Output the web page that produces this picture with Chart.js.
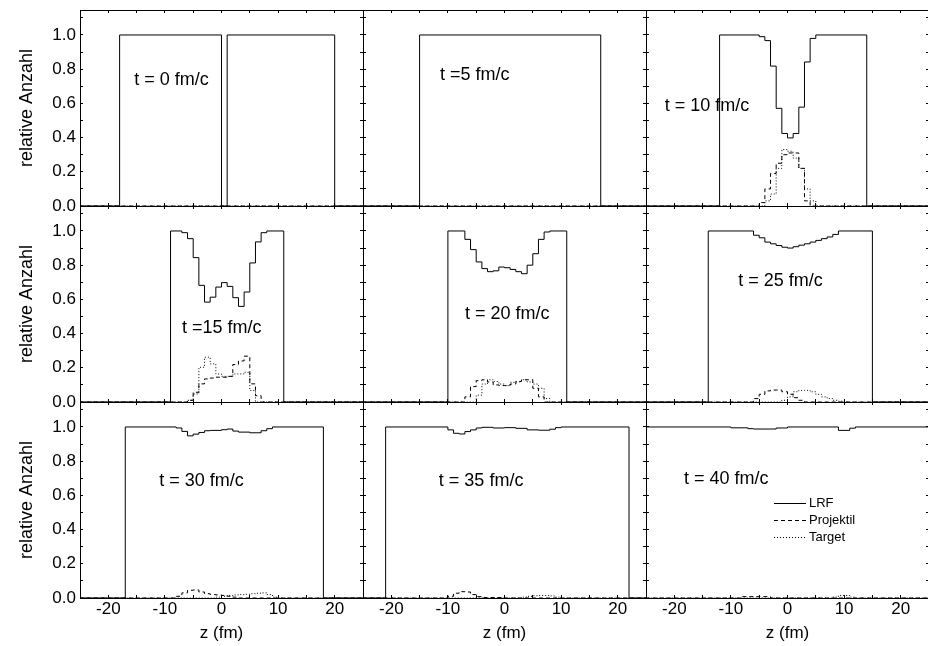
<!DOCTYPE html>
<html>
<head>
<meta charset="utf-8">
<script src="https://cdn.jsdelivr.net/npm/chart.js@4"></script>
<style>
html,body{margin:0;padding:0;background:#fff;overflow:hidden}
#wrap{position:relative;width:928px;height:646px;overflow:hidden;background:#fff}
#wrap canvas{position:absolute}
</style>
</head>
<body>
<div id="wrap"></div>
<script>
// ---------------- data (bin edges z in fm, relative counts) ----------------
const panelLabels = ['t = 0 fm/c','t =5 fm/c','t = 10 fm/c','t =15 fm/c','t = 20 fm/c','t = 25 fm/c','t = 30 fm/c','t = 35 fm/c','t = 40 fm/c'];
const seriesNames = ['LRF','Projektil','Target'];
const xTickLabels = [-20,-10,0,10,20];
const yTickLabels = [0,0.2,0.4,0.6,0.8,1.0];
const xTitle = 'z (fm)';
const yTitle = 'relative Anzahl';

// t = 0
const lrf0Z = [-30,-18,0,1,20,30];
const lrf0V = [0,1,0,1,0,0];
const pro0Z = [-30,30];
const pro0V = [0,0];
const tar0Z = [-30,30];
const tar0V = [0,0];
// t = 5
const lrf5Z = [-30,-15,17,30];
const lrf5V = [0,1,0,0];
const pro5Z = [-30,30];
const pro5V = [0,0];
const tar5Z = [-30,30];
const tar5V = [0,0];
// t = 10
const lrf10Z = [-30,-12,-5,-4,-3,-2,-1,0,1,2,3,4,5,14,30];
const lrf10V = [0,1,0.99,0.967,0.818,0.571,0.424,0.398,0.424,0.578,0.842,0.98,1,0,0];
const pro10Z = [-30,-5,-4,-3,-2,-1,0,1,2,3,4,30];
const pro10V = [0,0.02,0.1,0.19,0.25,0.3,0.31,0.31,0.22,0.03,0,0];
const tar10Z = [-30,-4,-3,-2,-1,0,1,2,3,4,5,30];
const tar10V = [0,0.03,0.07,0.22,0.33,0.32,0.28,0.22,0.1,0.03,0,0];
// t = 15
const lrf15Z = [-30,-9,-7,-6,-5,-4,-3,-2,-1,0,1,2,3,4,5,6,7,8,11,30];
const lrf15V = [0,1,0.99,0.955,0.844,0.682,0.584,0.613,0.672,0.698,0.676,0.61,0.559,0.643,0.813,0.936,0.99,1,0,0];
const pro15Z = [-30,-6,-5,-4,-3,-2,-1,0,1,2,3,4,5,6,7,30];
const pro15V = [0,0.01,0.057,0.106,0.135,0.14,0.145,0.145,0.15,0.219,0.24,0.268,0.106,0.037,0,0];
const tar15Z = [-30,-6,-5,-4,-3,-2,-1,0,1,2,3,4,5,6,30];
const tar15V = [0,0.01,0.047,0.203,0.262,0.223,0.164,0.15,0.15,0.164,0.164,0.174,0.067,0,0];
// t = 20
const lrf20Z = [-30,-10,-7,-6,-5,-4,-3,-2,-1,0,1,2,3,4,5,6,7,8,11,30];
const lrf20V = [0,1,0.951,0.891,0.819,0.78,0.762,0.767,0.789,0.785,0.775,0.762,0.75,0.8,0.867,0.951,0.994,1,0,0];
const pro20Z = [-30,-7,-6,-5,-4,-3,-2,-1,0,1,2,3,4,5,6,7,30];
const pro20V = [0,0.03,0.09,0.125,0.13,0.117,0.1,0.096,0.096,0.105,0.12,0.13,0.13,0.08,0.03,0,0];
const tar20Z = [-30,-5,-4,-3,-2,-1,0,1,2,3,4,5,6,7,8,30];
const tar20V = [0,0.04,0.105,0.13,0.12,0.105,0.096,0.115,0.118,0.13,0.117,0.105,0.08,0.02,0,0];
// t = 25
const lrf25Z = [-30,-14,-6,-5,-4,-3,-2,-1,0,1,2,3,4,5,6,7,8,9,15,30];
const lrf25V = [0,1,0.975,0.96,0.935,0.925,0.915,0.905,0.9,0.908,0.917,0.925,0.935,0.945,0.955,0.965,0.98,1,0,0];
const pro25Z = [-30,-6,-5,-4,-3,-2,-1,0,1,2,3,30];
const pro25V = [0,0.02,0.045,0.065,0.07,0.07,0.06,0.045,0.025,0.01,0,0];
const tar25Z = [-30,-1,0,1,2,3,4,5,6,7,8,9,10,30];
const tar25V = [0,0.01,0.03,0.06,0.068,0.068,0.06,0.045,0.03,0.02,0.01,0.005,0,0];
// t = 30
const lrf30Z = [-30,-17,-8,-7,-6,-5,-4,-3,-2,0,1,2,3,5,7,8,9,18,30];
const lrf30V = [0,1,0.994,0.974,0.948,0.958,0.968,0.978,0.98,0.984,0.988,0.976,0.97,0.966,0.978,0.99,1,0,0];
const pro30Z = [-30,-8,-7,-6,-5,-4,-3,-2,-1,0,1,2,3,30];
const pro30V = [0,0.01,0.03,0.045,0.047,0.035,0.025,0.02,0.018,0.015,0.01,0.005,0,0];
const tar30Z = [-30,-1,0,1,2,3,4,5,6,7,8,9,10,30];
const tar30V = [0,0.005,0.01,0.015,0.018,0.02,0.022,0.025,0.028,0.03,0.02,0.005,0,0];
// t = 35
const lrf35Z = [-30,-21,-10,-9,-8,-7,-6,-5,-4,-2,0,2,4,6,8,9,10,22,30];
const lrf35V = [0,1,0.983,0.963,0.959,0.973,0.983,0.994,0.998,0.994,0.996,0.992,0.983,0.981,0.987,0.996,1,0,0];
const pro35Z = [-30,-10,-9,-8,-7,-6,-5,-4,0,30];
const pro35V = [0,0.01,0.028,0.037,0.035,0.02,0.008,0.003,0,0];
const tar35Z = [-30,3,4,5,6,7,8,9,10,30];
const tar35V = [0,0.005,0.01,0.013,0.015,0.015,0.012,0.005,0,0];
// t = 40
const lrf40Z = [-30,-10,-7,-6,-2,0,9,11,12,30];
const lrf40V = [1,0.995,0.99,0.988,0.994,1,0.98,0.993,1,1];
const pro40Z = [-30,-8,-3,30];
const pro40V = [0,0.008,0,0];
const tar40Z = [-30,8,9,11,12,30];
const tar40V = [0,0.005,0.015,0.005,0,0];

const panelSeries = [
  [[lrf0Z,lrf0V],[pro0Z,pro0V],[tar0Z,tar0V]],
  [[lrf5Z,lrf5V],[pro5Z,pro5V],[tar5Z,tar5V]],
  [[lrf10Z,lrf10V],[pro10Z,pro10V],[tar10Z,tar10V]],
  [[lrf15Z,lrf15V],[pro15Z,pro15V],[tar15Z,tar15V]],
  [[lrf20Z,lrf20V],[pro20Z,pro20V],[tar20Z,tar20V]],
  [[lrf25Z,lrf25V],[pro25Z,pro25V],[tar25Z,tar25V]],
  [[lrf30Z,lrf30V],[pro30Z,pro30V],[tar30Z,tar30V]],
  [[lrf35Z,lrf35V],[pro35Z,pro35V],[tar35Z,tar35V]],
  [[lrf40Z,lrf40V],[pro40Z,pro40V],[tar40Z,tar40V]]
];

// ---------------- layout / style ----------------
const FONT = '"Liberation Sans", Arial, Helvetica, sans-serif';
const X_MIN = -25, X_MAX = 25, Y_MIN = 0, Y_MAX = 1.146;
const PANEL_LEFT = [80, 363, 646], PANEL_TOP = [10, 206, 402];
const PW = 283, PH = 196;
const ML = 80, MT = 20, MR = 6, MB = 50;
const labelAnchor = [[-15.4,0.736],[-11.4,0.766],[-21.7,0.585],[-7.0,0.43],[-7.0,0.513],[-8.7,0.708],[-11.0,0.686],[-11.6,0.686],[-18.3,0.693]];
const seriesStyle = [
  {borderDash: []},
  {borderDash: [4,3]},
  {borderDash: [1,2]}
];
const legendLayout = {x0: 128, x1: 160, tx: 163, top: 101, gap: 17, size: 13};

const annotPlugin = {
  id: 'annot',
  afterDatasetsDraw(chart, args, opts) {
    const ctx = chart.ctx, xs = chart.scales.x, ys = chart.scales.y;
    ctx.save();
    ctx.fillStyle = '#000';
    if (opts.label) {
      ctx.font = '18px ' + FONT;
      ctx.textAlign = 'left';
      ctx.textBaseline = 'middle';
      ctx.fillText(opts.label, xs.getPixelForValue(opts.at[0]), ys.getPixelForValue(opts.at[1]));
    }
    if (opts.legend) {
      const L = opts.legend, ca = chart.chartArea;
      chart.data.datasets.forEach((ds, i) => {
        const y = Math.round(ca.top + L.top + i * L.gap) + 0.5;
        ctx.strokeStyle = ds.borderColor;
        ctx.lineWidth = ds.borderWidth;
        ctx.setLineDash(ds.borderDash || []);
        ctx.beginPath();
        ctx.moveTo(ca.left + L.x0, y);
        ctx.lineTo(ca.left + L.x1, y);
        ctx.stroke();
        ctx.setLineDash([]);
        ctx.font = L.size + 'px ' + FONT;
        ctx.textAlign = 'left';
        ctx.textBaseline = 'middle';
        ctx.fillText(ds.label, ca.left + L.tx, y);
      });
    }
    ctx.restore();
  }
};

const wrap = document.getElementById('wrap');
const near = (v, arr) => arr.some(a => Math.abs(a - v) < 1e-6);

for (let i = 0; i < 9; i++) {
  const r = Math.floor(i / 3), c = i % 3;
  const W = ML + PW + MR, H = MT + PH + MB;
  const cv = document.createElement('canvas');
  cv.width = W; cv.height = H;
  cv.style.width = W + 'px'; cv.style.height = H + 'px';
  cv.style.left = (PANEL_LEFT[c] - ML) + 'px';
  cv.style.top = (PANEL_TOP[r] - MT) + 'px';
  wrap.appendChild(cv);

  const datasets = panelSeries[i].map((s, k) => ({
    label: seriesNames[k],
    data: s[0].map((z, j) => ({x: z, y: s[1][j]})),
    stepped: 'before',
    borderColor: '#000',
    borderWidth: 1,
    borderDash: seriesStyle[k].borderDash,
    pointRadius: 0,
    fill: false,
    tension: 0
  }));

  const gridOpts = {drawOnChartArea: false, drawTicks: true, tickLength: -3, color: '#000', tickColor: '#000', tickWidth: 1};
  const borderOpts = {display: true, color: '#000', width: 1};

  new Chart(cv, {
    type: 'line',
    data: {datasets},
    plugins: [annotPlugin],
    options: {
      responsive: false,
      animation: false,
      devicePixelRatio: 1,
      layout: {padding: {top: MT, right: MR, left: 0, bottom: 0}},
      plugins: {
        legend: {display: false},
        tooltip: {enabled: false},
        annot: {
          label: panelLabels[i],
          at: labelAnchor[i],
          legend: i === 8 ? legendLayout : null
        }
      },
      scales: {
        x: {
          type: 'linear', position: 'bottom', min: X_MIN, max: X_MAX,
          ticks: {
            display: r === 2, stepSize: 5, autoSkip: false, maxRotation: 0, includeBounds: false,
            padding: 4, color: '#000', font: {family: FONT, size: 17},
            callback: v => near(v, xTickLabels) ? String(Math.round(v)) : ''
          },
          grid: gridOpts, border: borderOpts,
          title: {display: r === 2, text: xTitle, color: '#000', font: {family: FONT, size: 17}, padding: {top: 4, bottom: 4}},
          afterFit: s => { s.height = MB; }
        },
        x2: {
          type: 'linear', position: 'top', min: X_MIN, max: X_MAX,
          ticks: {display: false, stepSize: 5, autoSkip: false, includeBounds: false},
          grid: gridOpts, border: borderOpts,
          afterFit: s => { s.height = 0; }
        },
        y: {
          type: 'linear', position: 'left', min: Y_MIN, max: Y_MAX,
          ticks: {
            display: c === 0, stepSize: 0.1, autoSkip: false, includeBounds: false, maxTicksLimit: 100,
            padding: 7, color: '#000', font: {family: FONT, size: 17},
            callback: v => near(v, yTickLabels) ? v.toFixed(1) : ''
          },
          grid: gridOpts, border: borderOpts,
          title: {display: c === 0, text: yTitle, color: '#000', font: {family: FONT, size: 18}, padding: {top: 16, bottom: 4}},
          afterFit: s => { s.width = ML; }
        },
        y2: {
          type: 'linear', position: 'right', min: Y_MIN, max: Y_MAX,
          ticks: {display: false, stepSize: 0.1, autoSkip: false, includeBounds: false, maxTicksLimit: 100},
          grid: gridOpts, border: borderOpts,
          afterFit: s => { s.width = 0; }
        }
      }
    }
  });
}
</script>
</body>
</html>
